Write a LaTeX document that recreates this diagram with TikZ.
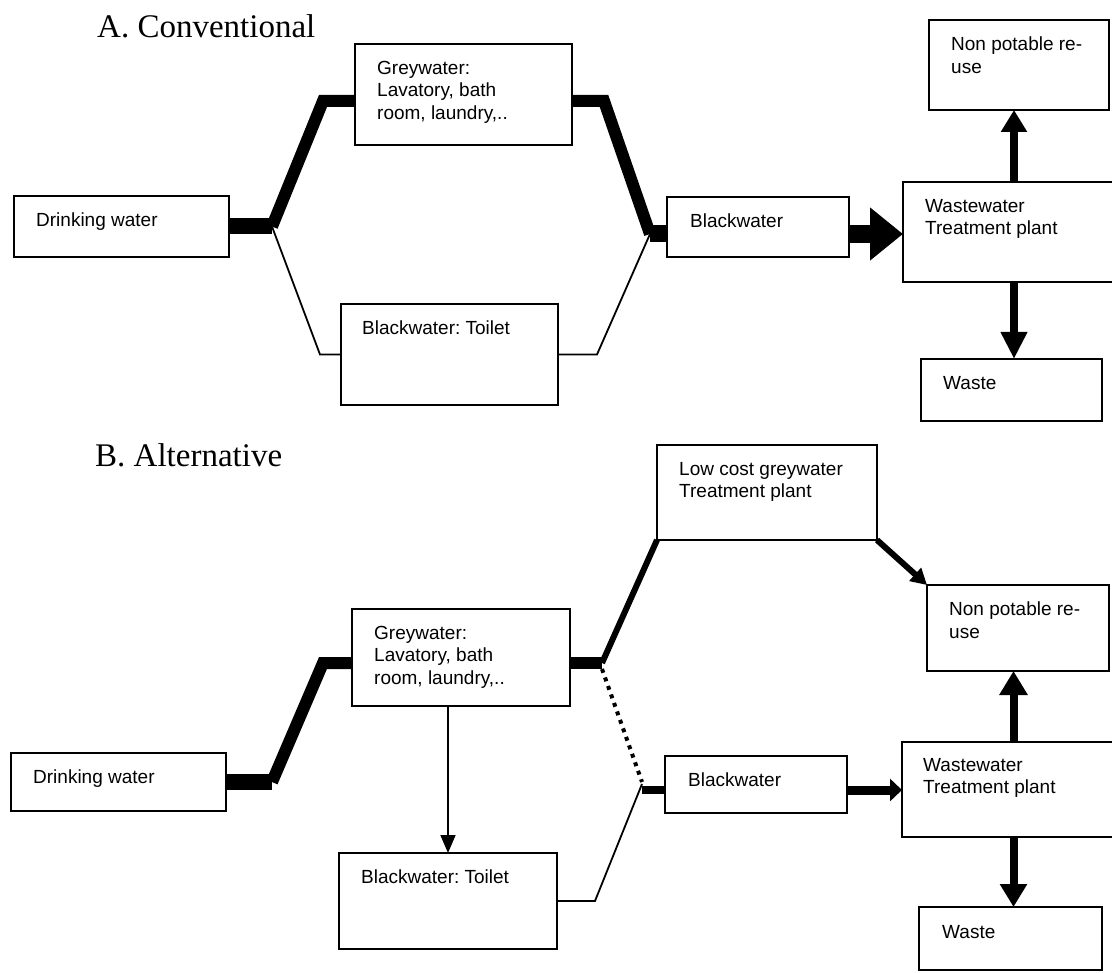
\documentclass[tikz,border=0pt]{standalone}
\usepackage{fontspec}
\setmainfont{Liberation Sans}
\newfontfamily\titlefont{Liberation Serif}
\usetikzlibrary{arrows.meta,calc}
\frenchspacing
\begin{document}
\begin{tikzpicture}[x=1pt,y=-1pt,
  box/.style={draw, line width=1.5pt, anchor=north west, inner sep=0pt, outer sep=0pt},
  lbl/.style={anchor=north west, inner sep=0pt, align=left, font=\frenchspacing\fontsize{19}{22.5}\selectfont},
  ttl/.style={anchor=base west, inner sep=0pt, font=\titlefont\fontsize{33}{36}\selectfont},
  thinline/.style={line width=1.8pt},
  pipe/.style={line width=#1, line join=miter},
]
\useasboundingbox (0,0) rectangle (1112,973);
\clip (0,0) rectangle (1112,973);

% ---------- Titles ----------
\node[ttl] (tA) at (97,37.5) {A. Conventional};
\node[ttl] (tB) at (95,467) {B. Alternative};

% ---------- A boxes ----------
\node[box, minimum width=215pt, minimum height=61pt] (dwA) at (14,196) {};
\node[lbl] (dwAt) at (36,213) {Drinking water};
\node[box, minimum width=217pt, minimum height=101pt] (gwA) at (355,44) {};
\node[lbl] (gwAt) at (377,61) {Greywater:\\Lavatory, bath\\room, laundry,..};
\node[box, minimum width=217pt, minimum height=101pt] (toA) at (341,304) {};
\node[lbl] (toAt) at (362,321) {Blackwater: Toilet};
\node[box, minimum width=182pt, minimum height=60pt] (bwA) at (667,197) {};
\node[lbl] (bwAt) at (690,214) {Blackwater};
\node[box, minimum width=180pt, minimum height=90pt] (npA) at (929,20) {};
\node[lbl] (npAt) at (951,37) {Non potable re-\\use};
\node[box, minimum width=222pt, minimum height=100pt] (wwA) at (903,182) {};
\node[lbl] (wwAt) at (925,199) {Wastewater\\Treatment plant};
\node[box, minimum width=181pt, minimum height=62pt] (wsA) at (921,359) {};
\node[lbl] (wsAt) at (943,376) {Waste};

% ---------- A connectors ----------
\coordinate (jA) at (272,226.5);
\coordinate (kA) at (323,101);
\coordinate (lA) at (320,354.5);
\coordinate (mA) at (604,101);
\coordinate (nA) at (650,234);
\coordinate (pA) at (597,354.5);
\draw[pipe=16pt] (dwA.east) -- (jA);
\draw[pipe=12pt] (jA) -- (kA) -- (kA -| gwA.west);
\draw[thinline] (jA) -- (lA) -- (toA.west);
\draw[pipe=12pt] (kA -| gwA.east) -- (mA) -- (nA);
\draw[pipe=17pt] (nA) -- (nA -| bwA.west);
\draw[thinline] (toA.east) -- (pA) -- (nA);
\draw[line width=18pt, -{Triangle[length=33pt,width=51pt]}] (nA -| bwA.east) -- (nA -| wwA.west);
\draw[line width=8pt, -{Triangle[length=22pt,width=25pt]}] (wwA.north) -- (wwA.north |- npA.south);
\draw[line width=8pt, -{Triangle[length=27pt,width=25pt]}] (wwA.south) -- (wwA.south |- wsA.north);

% ---------- B boxes ----------
\node[box, minimum width=215pt, minimum height=58pt] (dwB) at (11,753) {};
\node[lbl] (dwBt) at (33,770) {Drinking water};
\node[box, minimum width=218pt, minimum height=97pt] (gwB) at (352,609) {};
\node[lbl] (gwBt) at (374,626) {Greywater:\\Lavatory, bath\\room, laundry,..};
\node[box, minimum width=218pt, minimum height=96pt] (toB) at (339,853) {};
\node[lbl] (toBt) at (361,870) {Blackwater: Toilet};
\node[box, minimum width=220pt, minimum height=95pt] (lcB) at (657,445) {};
\node[lbl] (lcBt) at (679,462) {Low cost greywater\\Treatment plant};
\node[box, minimum width=182pt, minimum height=86pt] (npB) at (927,585) {};
\node[lbl] (npBt) at (949,602) {Non potable re-\\use};
\node[box, minimum width=182pt, minimum height=57pt] (bwB) at (665,756) {};
\node[lbl] (bwBt) at (688,773) {Blackwater};
\node[box, minimum width=223pt, minimum height=95pt] (wwB) at (902,742) {};
\node[lbl] (wwBt) at (923,758) {Wastewater\\Treatment plant};
\node[box, minimum width=183pt, minimum height=63pt] (wsB) at (919,907) {};
\node[lbl] (wsBt) at (942,925) {Waste};

% ---------- B connectors ----------
\coordinate (jB) at (272,782);
\coordinate (kB) at (323,663);
\coordinate (mB) at (602,663);
\coordinate (nB) at (642,790);
\coordinate (pB) at (595,901);
\draw[pipe=16pt] (dwB.east) -- (jB);
\draw[pipe=12pt] (jB) -- (kB) -- (kB -| gwB.west);
\draw[pipe=12pt] (kB -| gwB.east) -- (mB);
\draw[pipe=6pt] (mB) -- (lcB.south west);
\draw[line width=4pt, dash pattern=on 4pt off 5pt] ([yshift=-6pt]mB) -- ([yshift=8pt]nB);
\draw[pipe=8pt] (nB) -- (nB -| bwB.west);
\draw[thinline] (toB.east) -- (pB) -- ([yshift=6pt]nB);
\draw[thinline, -{Triangle[length=18pt,width=15pt]}] (gwB.south -| toB.north) -- (toB.north);
\draw[line width=6pt, -{Triangle[length=16pt,width=17pt]}] (lcB.south east) -- (npB.north west);
\draw[line width=9pt, -{Triangle[length=12pt,width=22pt]}] (nB -| bwB.east) -- (nB -| wwB.west);
\draw[line width=8pt, -{Triangle[length=24pt,width=27pt]}] (wwB.north) -- (wwB.north |- npB.south);
\draw[line width=8pt, -{Triangle[length=23pt,width=26pt]}] (wwB.south) -- (wwB.south |- wsB.north);
\end{tikzpicture}
\end{document}
